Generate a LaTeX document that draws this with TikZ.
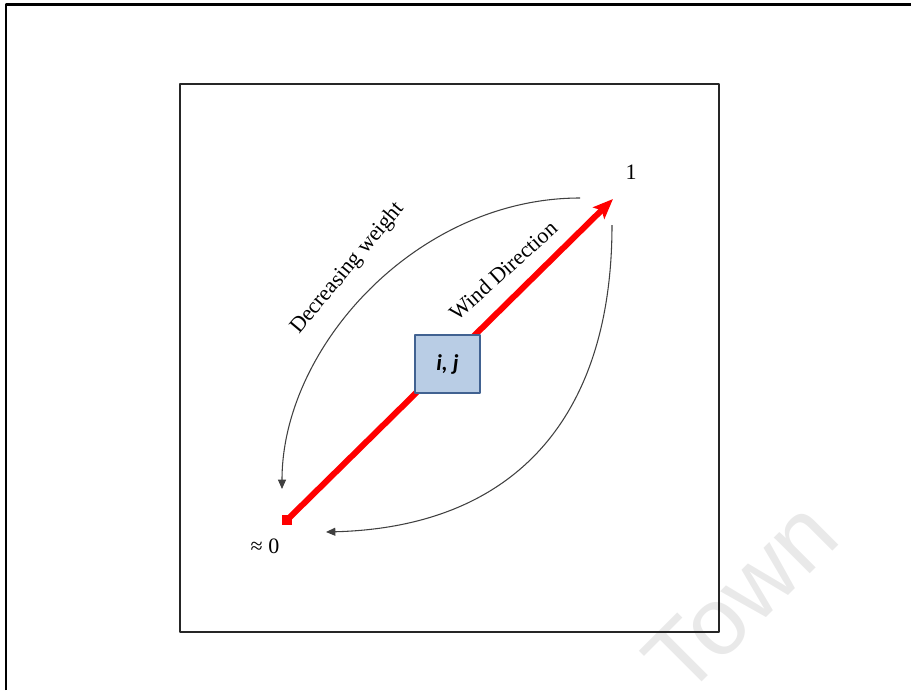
\documentclass[tikz,border=0pt]{standalone}
\usepackage{fontspec}
\setmainfont{Liberation Serif}
\newfontfamily\cellfont{Carlito}
\newfontfamily\markfont{Liberation Sans}
\usetikzlibrary{arrows.meta}
\definecolor{cellfill}{RGB}{185,205,229}
\definecolor{celledge}{RGB}{65,98,145}

\begin{document}
\begin{tikzpicture}[x=0.75pt, y=-0.75pt, line join=round,
    labeltext/.style={font=\fontsize{16.5}{19}\selectfont},
    weightarc/.style={draw=black!75, line width=0.8pt, -{Triangle[length=7pt,width=6pt]}},
    cell/.style={draw=celledge, fill=cellfill, line width=1.5pt,
        minimum width=48.75pt, minimum height=43.5pt, inner sep=0pt,
        font=\cellfont\bfseries\itshape\fontsize{17}{20}\selectfont}]
    \useasboundingbox (0,0) rectangle (911,690);

    % watermark
    \node[rotate=45, anchor=base, text=gray!17, font=\markfont\fontsize{72}{76}\selectfont] (mark) at (764,620) {Town};

    % frames
    \draw[line width=2pt] (6,690) -- (6,4.7) -- (911,4.7);
    \draw[line width=1.5pt, black!85] (180,84) rectangle (719,632);

    % wind direction
    \node[fill=red, minimum size=7.5pt, inner sep=0pt] (zero) at (287,520) {};
    \coordinate (tip) at (613,199);
    \draw[red, line width=4.5pt, -{Stealth[length=15pt,width=12pt,inset=3pt]}] (zero.center) -- (tip);
    \node[cell] (ij) at (447.5,364) {i, j};

    % weights
    \coordinate (upA) at (580,198);
    \coordinate (lowA) at (282,489);
    \coordinate (upB) at (612,225);
    \coordinate (lowB) at (326,532);
    \draw[weightarc] (upA) .. controls (417,198) and (282,347) .. (lowA);
    \draw[weightarc] (upB) .. controls (612,415) and (517,527) .. (lowB);

    \node[labeltext] (one) at (631,172) {1};
    \node[labeltext] (approx) at (265,546) {≈ 0};
    \node[labeltext, rotate=50, anchor=base] (decr) at (352,272) {Decreasing weight};
    \node[labeltext, rotate=42, anchor=base] (wind) at (508,276) {Wind Direction};
\end{tikzpicture}
\end{document}
